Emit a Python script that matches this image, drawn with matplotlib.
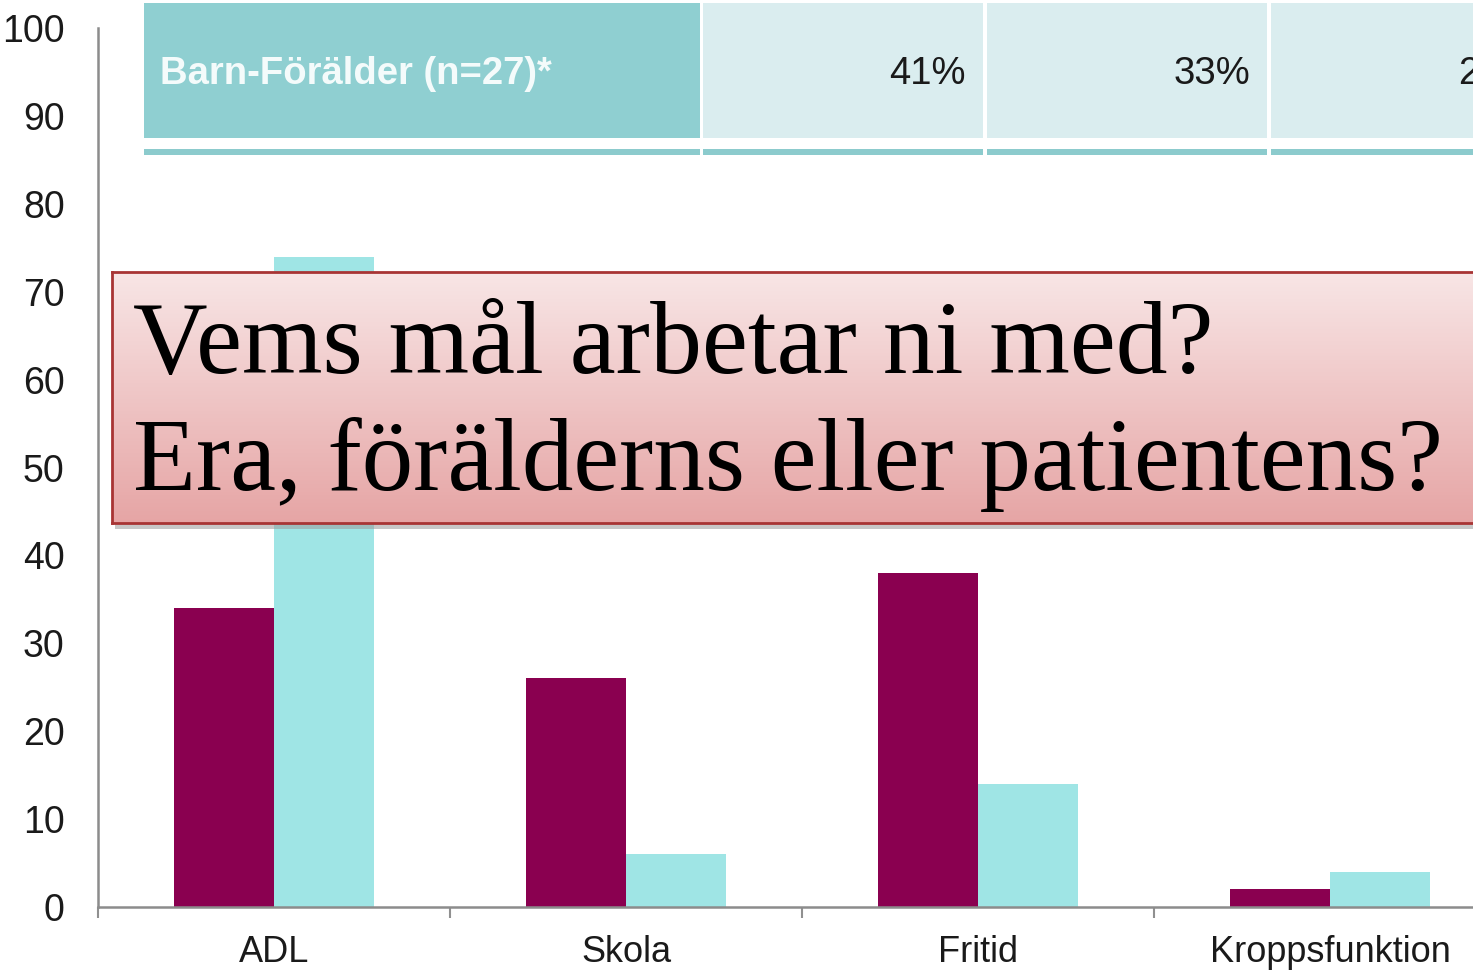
import numpy as np
import matplotlib
matplotlib.use("Agg")
import matplotlib.pyplot as plt
from matplotlib.patches import Rectangle

# ---------------- data ----------------
categories = ["ADL", "Skola", "Fritid", "Kroppsfunktion"]
series_a = [34, 26, 38, 2]      # maroon
series_b = [74, 6, 14, 4]       # cyan
y_ticks = list(range(0, 101, 10))
table_header = "Barn-Förälder (n=27)*"
table_values = ["41%", "33%", "26%"]
overlay_lines = ["Vems mål arbetar ni med?", "Era, förälderns eller patientens?"]

W, H = 1473, 971
fig = plt.figure(figsize=(W / 100, H / 100), dpi=100)
fig.patch.set_facecolor("white")


def fx(x):
    return x / W


def fy(y):
    return 1 - y / H


# ---------------- main chart ----------------
ax_left, ax_right, ax_top, ax_bot = 98, 98 + 4 * 352, 28, 907
ax = fig.add_axes([fx(ax_left), fy(ax_bot), (ax_right - ax_left) / W, (ax_bot - ax_top) / H])
ax.set_facecolor("none")
x = np.arange(len(categories))
bw = 0.284
ax.bar(x - bw / 2, series_a, width=bw, color="#8A0050", zorder=2)
ax.bar(x + bw / 2, series_b, width=bw, color="#9FE5E5", zorder=2)
ax.set_xlim(-0.5, len(categories) - 0.5)
ax.set_ylim(0, 100)
ax.set_yticks(y_ticks)
ax.set_yticklabels([str(v) for v in y_ticks], fontsize=27, family="Liberation Sans", color="#1a1a1a")
ax.tick_params(axis="y", length=0, pad=24)
ax.set_xticks(x)
ax.set_xticklabels(categories, fontsize=26, family="Liberation Sans", color="#1a1a1a")
ax.tick_params(axis="x", which="major", length=0, pad=20)
ax.set_xticks(np.arange(-0.5, len(categories) - 0.4, 1.0), minor=True)
ax.tick_params(axis="x", which="minor", length=8, width=1.5, color="#909090", direction="out")
for s in ["top", "right"]:
    ax.spines[s].set_visible(False)
for s in ["left", "bottom"]:
    ax.spines[s].set_color("#8c8c8c")
    ax.spines[s].set_linewidth(1.8)

# ---------------- table overlay ----------------
def frect(x0, y0, x1, y1, color, z=1, alpha=1.0):
    r = Rectangle((fx(x0), fy(y1)), (x1 - x0) / W, (y1 - y0) / H, transform=fig.transFigure,
                  facecolor=color, edgecolor="none", zorder=z, alpha=alpha)
    fig.add_artist(r)
    return r


cells = [(144, 700), (703, 983), (987, 1267), (1271, 1551)]
frect(cells[0][0], 3, cells[0][1], 138, "#8FCFD1", z=2)
for c0, c1 in cells[1:]:
    frect(c0, 3, c1, 138, "#DAEDEF", z=2)
for c0, c1 in cells:
    frect(c0, 149, c1, 155, "#8CCBCD", z=2)

fig.text(fx(160), fy(74), table_header, fontsize=27.5, fontweight="bold", family="Liberation Sans",
         color="#F4FBFB", ha="left", va="center", zorder=3)
for (c0, c1), val in zip(cells[1:], table_values):
    fig.text(fx(c1 - 17), fy(74), val, fontsize=27.5, family="Liberation Sans",
             color="#1a1a1a", ha="right", va="center", zorder=3)

# ---------------- red callout box ----------------
bx0, by0, bx1, by1 = 112, 272, 1560, 523
# shadow
frect(bx0 + 3, by0 + 5, bx1 + 3, by1 + 6, "#9a9a9a", z=4, alpha=0.55)
bax = fig.add_axes([fx(bx0), fy(by1), (bx1 - bx0) / W, (by1 - by0) / H], zorder=5)
top_c = np.array([248, 230, 230]) / 255
bot_c = np.array([230, 165, 165]) / 255
t = np.linspace(0, 1, 256)[:, None]
grad = top_c[None, None, :] * (1 - t[..., None]) + bot_c[None, None, :] * t[..., None]
grad = np.repeat(grad, 2, axis=1)
bax.imshow(grad, aspect="auto", extent=[0, 1, 0, 1], origin="upper", interpolation="bilinear")
bax.set_xlim(0, 1)
bax.set_ylim(0, 1)
bax.set_xticks([])
bax.set_yticks([])
for s in bax.spines.values():
    s.set_color("#A83434")
    s.set_linewidth(2.0)

fig.text(fx(133), fy(373), overlay_lines[0], fontsize=74.5, family="Liberation Serif",
         color="black", ha="left", va="baseline", zorder=6)
fig.text(fx(133), fy(490), overlay_lines[1], fontsize=74.2, family="Liberation Serif",
         color="black", ha="left", va="baseline", zorder=6)

fig.savefig("out.png", dpi=100, facecolor="white")
